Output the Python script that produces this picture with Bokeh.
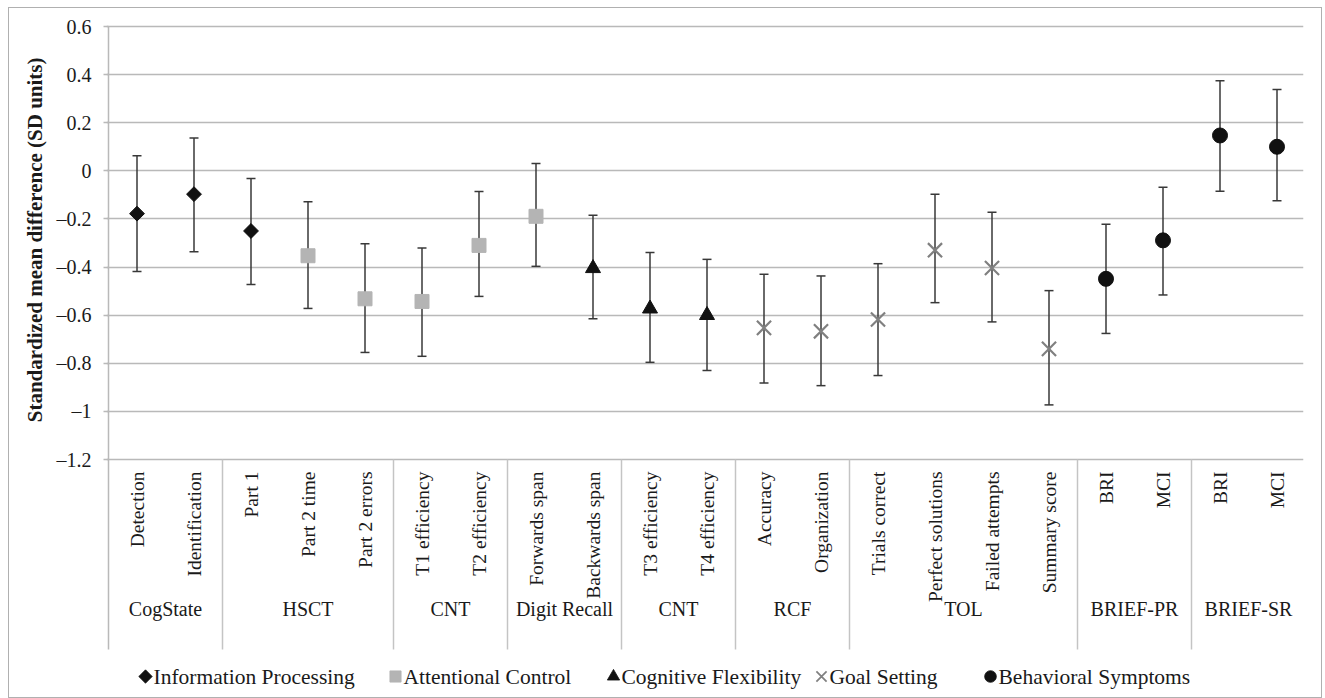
import math
from bokeh.plotting import figure
from bokeh.models import Range1d, FixedTicker, ColumnDataSource, Whisker, TeeHead, Title
from bokeh.core.properties import value
from bokeh.embed import file_html
from bokeh.resources import INLINE

# ---------------- data ----------------
measures = ["Detection", "Identification", "Part 1", "Part 2 time", "Part 2 errors",
            "T1 efficiency", "T2 efficiency", "Forwards span", "Backwards span",
            "T3 efficiency", "T4 efficiency", "Accuracy", "Organization",
            "Trials correct", "Perfect solutions", "Failed attempts", "Summary score",
            "BRI", "MCI", "BRI", "MCI"]
groups = ["CogState", "HSCT", "CNT", "Digit Recall", "CNT", "RCF", "TOL",
          "BRIEF-PR", "BRIEF-SR"]
group_sizes = [2, 3, 2, 2, 2, 2, 4, 2, 2]
domain_names = ["Information Processing", "Attentional Control",
                "Cognitive Flexibility", "Goal Setting", "Behavioral Symptoms"]
domain_of_measure = [0, 0, 0, 1, 1, 1, 1, 1, 2, 2, 2, 3, 3, 3, 3, 3, 3, 4, 4, 4, 4]
means = [-0.178, -0.097, -0.250, -0.353, -0.532, -0.543, -0.310, -0.189, -0.405,
         -0.573, -0.600, -0.653, -0.667, -0.618, -0.330, -0.404, -0.740, -0.449,
         -0.289, 0.147, 0.100]
upper = [0.063, 0.137, -0.032, -0.129, -0.303, -0.321, -0.086, 0.031, -0.185,
         -0.339, -0.368, -0.430, -0.437, -0.386, -0.097, -0.172, -0.498, -0.222,
         -0.068, 0.375, 0.338]
lower = [-0.418, -0.336, -0.473, -0.572, -0.755, -0.771, -0.522, -0.397, -0.615,
         -0.796, -0.830, -0.882, -0.893, -0.851, -0.548, -0.628, -0.973, -0.676,
         -0.516, -0.085, -0.124]
y_ticks = [-1.2, -1.0, -0.8, -0.6, -0.4, -0.2, 0.0, 0.2, 0.4, 0.6]
y_tick_labels = ["\u20131.2", "\u20131", "\u20130.8", "\u20130.6", "\u20130.4",
                 "\u20130.2", "0", "0.2", "0.4", "0.6"]
y_title = "Standardized mean difference (SD units)"

# ---------------- styles ----------------
FONT = "Liberation Serif"
TEXT_COLOR = "#1a1a1a"
GRID_COLOR = "#b9b9b9"
SEP_COLOR = "#c4c4c4"
BAR_COLOR = "#383838"
domain_styles = [
    dict(marker="square", size=10.5, angle=math.pi / 4, color="#111111", line_width=1),
    dict(marker="square", size=14, angle=0.0, color="#b4b4b4", line_width=1),
    dict(marker="triangle", size=15, angle=0.0, color="#111111", line_width=1),
    dict(marker="x", size=20, angle=0.0, color="#808080", line_width=2.2),
    dict(marker="circle", size=15, angle=0.0, color="#111111", line_width=1),
]
legend_scale = [0.9, 0.8, 0.82, 0.72, 0.78]

# ---------------- layout (page pixels) ----------------
W, H = 1314, 691                 # figure incl. its 1px css border
PAGE_X0, PAGE_Y0 = 9, 8          # page position of canvas origin
B_LEFT, B_TOP, B_RIGHT, B_BOTTOM = 97, 16, 20, 2
FRAME_W = W - B_LEFT - B_RIGHT
FRAME_H = H - B_TOP - B_BOTTOM
N = len(measures)
CAT_W = 57.0
PX_PER_UNIT = 433 / 1.8
x_start = -2 / CAT_W
x_end = x_start + FRAME_W / CAT_W
y_end = y_ticks[-1] + 2 / PX_PER_UNIT
y_start = y_end - FRAME_H / PX_PER_UNIT
FRAME_LEFT_PAGE = PAGE_X0 + B_LEFT
FRAME_TOP_PAGE = PAGE_Y0 + B_TOP


def px_to_x(px):
    return x_start + (px - FRAME_LEFT_PAGE) / CAT_W


def py_to_y(py):
    return y_end - (py - FRAME_TOP_PAGE) / PX_PER_UNIT


CAT_AREA_BOTTOM = py_to_y(649)
CAT_LABEL_TOP = y_ticks[0] - 12 / PX_PER_UNIT
GROUP_LABEL_Y = py_to_y(608)
LEGEND_Y = py_to_y(676)
LEGEND_MARKER_PX = [145, 395, 613, 821, 990]
LEGEND_TEXT_GAP = 8 / CAT_W

p = figure(width=W, height=H, output_backend="svg", toolbar_location=None,
           x_range=Range1d(x_start, x_end), y_range=Range1d(y_start, y_end),
           x_axis_location=None, min_border_left=B_LEFT, min_border_right=B_RIGHT,
           min_border_top=B_TOP, min_border_bottom=B_BOTTOM,
           background_fill_color="white", border_fill_color="white")
p.outline_line_color = None
p.styles = {"border": "1px solid #b0b0b0", "margin-left": "8px", "margin-top": "7px"}

p.xgrid.visible = False
p.ygrid.ticker = FixedTicker(ticks=y_ticks)
p.ygrid.grid_line_color = GRID_COLOR
p.ygrid.grid_line_width = 1.5

ax = p.yaxis[0]
ax.ticker = FixedTicker(ticks=y_ticks)
ax.major_label_overrides = {t: l for t, l in zip(y_ticks, y_tick_labels)}
ax.axis_line_color = None
ax.major_tick_line_color = GRID_COLOR
ax.major_tick_line_width = 1.5
ax.major_tick_out = 3
ax.major_tick_in = 2
ax.minor_tick_line_color = None
ax.major_label_standoff = 12
ax.major_label_text_font = FONT
ax.major_label_text_font_size = "20px"
ax.major_label_text_color = TEXT_COLOR

# y-axis title (left panel, anchored near the top of the value area)
p.add_layout(Title(text=y_title, align="right", offset=33, standoff=13,
                   text_font=FONT, text_font_size="21px", text_font_style="bold",
                   text_color=TEXT_COLOR), "left")

# value-axis line, continued through the category area
p.segment(x0=[0], y0=[y_ticks[-1]], x1=[0], y1=[CAT_AREA_BOTTOM],
          line_color=GRID_COLOR, line_width=1.5)

# group separators in the category area
bounds = []
acc = 0
for s in group_sizes:
    acc += s
    bounds.append(acc)
p.segment(x0=bounds, y0=[y_ticks[0]] * len(bounds), x1=bounds,
          y1=[CAT_AREA_BOTTOM] * len(bounds), line_color=SEP_COLOR, line_width=1.5)

# category labels
xs = [i + 0.5 for i in range(N)]
p.text(x=xs, y=[CAT_LABEL_TOP] * N, text=measures, angle=math.pi / 2,
       text_align="right", text_baseline="middle", text_font=value(FONT),
       text_font_size="19.5px", text_color=TEXT_COLOR)

# group labels
starts = [0] + bounds[:-1]
gx = [(a + b) / 2 for a, b in zip(starts, bounds)]
p.text(x=gx, y=[GROUP_LABEL_Y] * len(groups), text=groups,
       text_align="center", text_baseline="middle", text_font=value(FONT),
       text_font_size="20px", text_color=TEXT_COLOR)

# error bars
src = ColumnDataSource(dict(x=xs, mean=means, upper=upper, lower=lower))
wh = Whisker(source=src, base="x", upper="upper", lower="lower",
             line_color=BAR_COLOR, line_width=1.5, level="underlay",
             upper_head=TeeHead(size=9, line_color=BAR_COLOR, line_width=1.5),
             lower_head=TeeHead(size=9, line_color=BAR_COLOR, line_width=1.5))
p.add_layout(wh)

# markers per domain + legend entries
for d, name in enumerate(domain_names):
    idx = [i for i in range(N) if domain_of_measure[i] == d]
    st = domain_styles[d]
    p.scatter(x=[xs[i] for i in idx], y=[means[i] for i in idx],
              marker=st["marker"], size=st["size"], angle=st["angle"],
              fill_color=st["color"], line_color=st["color"],
              line_width=st["line_width"])
    lx = px_to_x(LEGEND_MARKER_PX[d])
    p.scatter(x=[lx], y=[LEGEND_Y], marker=st["marker"],
              size=st["size"] * legend_scale[d], angle=st["angle"],
              fill_color=st["color"], line_color=st["color"],
              line_width=st["line_width"] * 0.8)
    p.text(x=[lx + LEGEND_TEXT_GAP], y=[LEGEND_Y], text=[name],
           text_align="left", text_baseline="middle", text_font=value(FONT),
           text_font_size="21.5px", text_color=TEXT_COLOR)

open("out.html", "w").write(file_html(p, INLINE))
